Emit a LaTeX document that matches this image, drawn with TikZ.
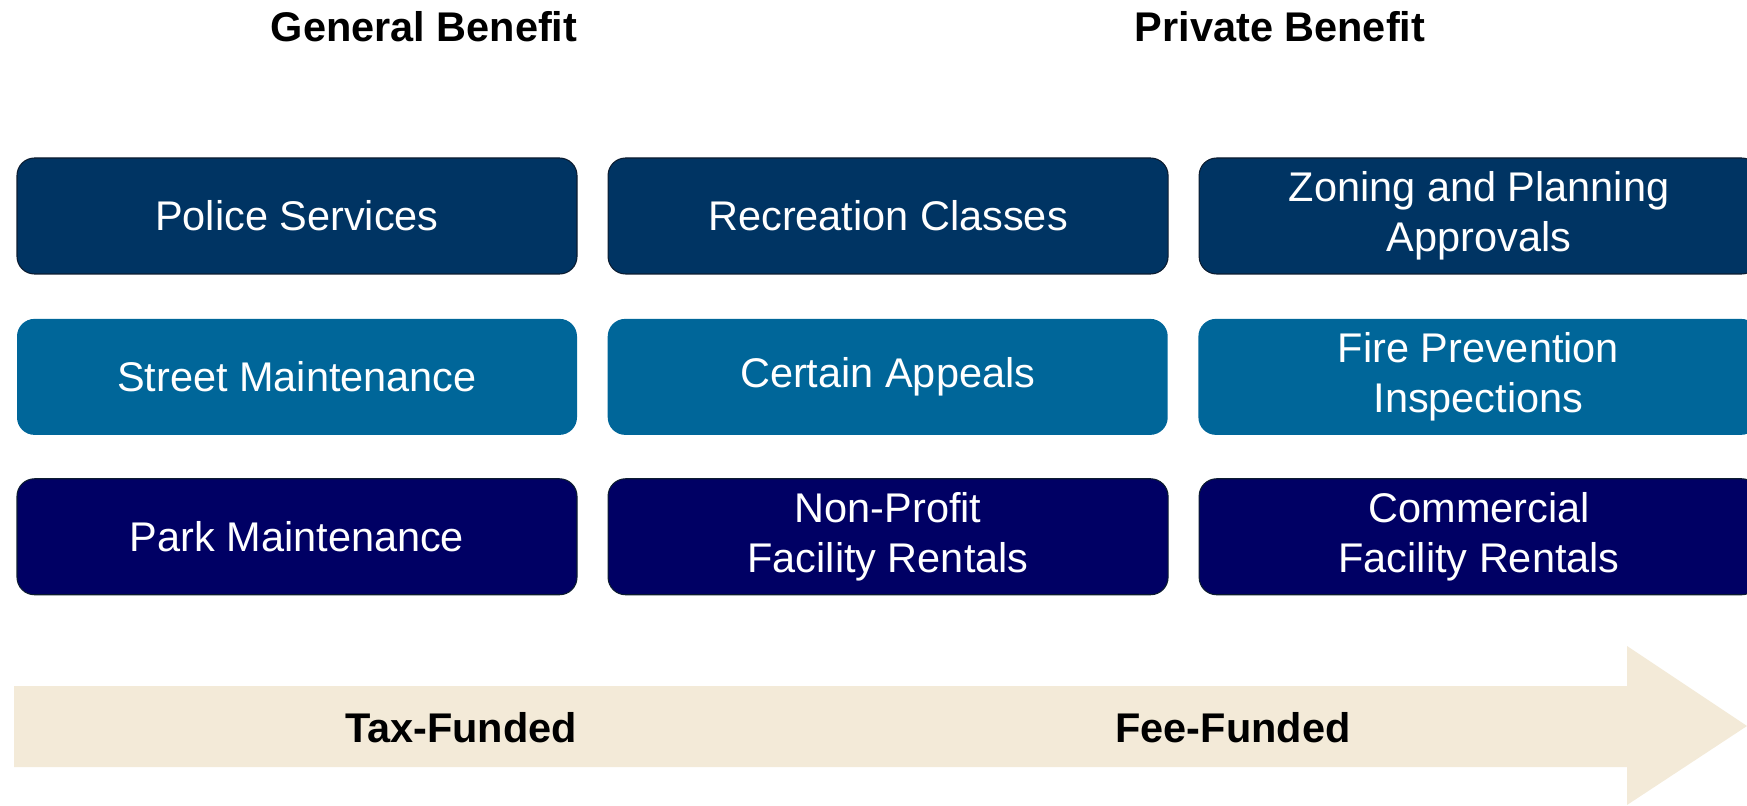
\documentclass[tikz,border=0pt]{standalone}
\usepackage{fontspec}
\setmainfont{Liberation Sans}
\usetikzlibrary{positioning}
\definecolor{toprow}{RGB}{0,52,99}
\definecolor{midrow}{RGB}{0,102,153}
\definecolor{lowrow}{RGB}{0,0,100}
\definecolor{edgecol}{RGB}{12,28,48}
\definecolor{arrowfill}{RGB}{243,234,216}
\newcommand{\bigfont}{\fontsize{23.6}{28.4}\selectfont}
\begin{document}
\begin{tikzpicture}[
  service/.style={rectangle, rounded corners=0.35cm, minimum width=11.2cm, minimum height=2.32cm,
    text=white, align=center, font=\bigfont, inner sep=0pt},
  toprowbox/.style={service, fill=toprow, draw=edgecol, line width=0.6pt},
  midrowbox/.style={service, fill=midrow},
  lowrowbox/.style={service, fill=lowrow, draw=edgecol, line width=0.6pt},
  heading/.style={font=\bigfont\bfseries, anchor=base},
  node distance=0.6cm
]
\useasboundingbox (0,0) rectangle (34.94,16.1);

% headings
\node[heading] (general) at (8.48,15.26) {General Benefit};
\node[heading] (private) at (25.6,15.26) {Private Benefit};

% first row
\node[toprowbox] (police) at (5.94,11.78) {Police Services};
\node[toprowbox, right=of police] (recreation) {Recreation Classes};
\node[toprowbox, right=of recreation] (zoning) {Zoning and Planning\\Approvals};

% second row
\node[midrowbox, below=0.88cm of police] (street) {Street Maintenance};
\node[midrowbox, right=of street] (appeals) {Certain Appeals};
\node[midrowbox, right=of appeals] (fire) {Fire Prevention\\Inspections};

% third row
\node[lowrowbox, below=0.86cm of street] (park) {Park Maintenance};
\node[lowrowbox, right=of park] (nonprofit) {Non-Profit\\Facility Rentals};
\node[lowrowbox, right=of nonprofit] (commercial) {Commercial\\Facility Rentals};

% funding arrow
\fill[arrowfill] (0.28,0.76) -- (32.54,0.76) -- (32.54,0) -- (34.94,1.58)
  -- (32.54,3.18) -- (32.54,2.38) -- (0.28,2.38) -- cycle;
\node[heading] (tax) at (9.22,1.26) {Tax-Funded};
\node[heading] (fee) at (24.66,1.26) {Fee-Funded};
\end{tikzpicture}
\end{document}
